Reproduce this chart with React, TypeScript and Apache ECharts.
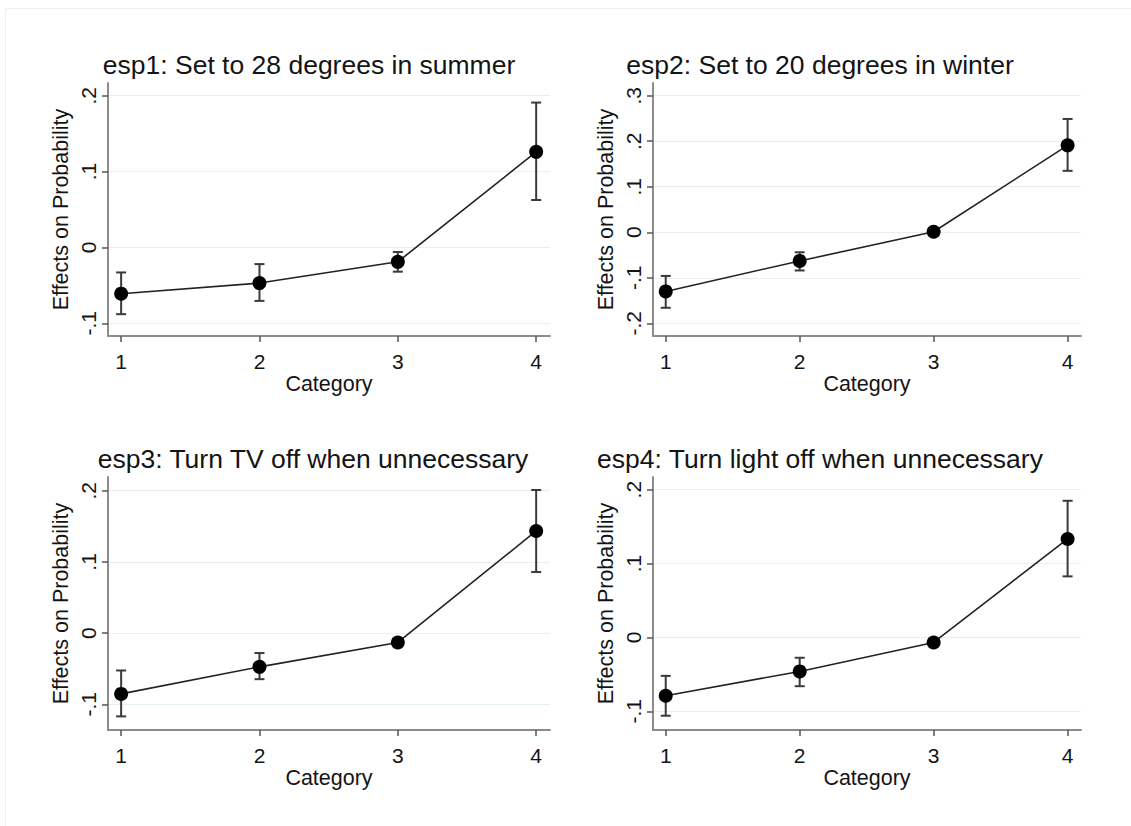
import React, { useEffect, useRef } from "react";
import * as echarts from "echarts";

const categories = [1, 2, 3, 4];

const titles = [
  "esp1: Set to 28 degrees in summer",
  "esp2: Set to 20 degrees in winter",
  "esp3: Turn TV off when unnecessary",
  "esp4: Turn light off when unnecessary",
];

const esp1Mean = [-0.061, -0.047, -0.019, 0.126];
const esp1Lo = [-0.088, -0.0705, -0.032, 0.0625];
const esp1Hi = [-0.033, -0.022, -0.006, 0.191];

const esp2Mean = [-0.13, -0.063, 0.001, 0.191];
const esp2Lo = [-0.166, -0.084, -0.004, 0.135];
const esp2Hi = [-0.096, -0.044, 0.006, 0.249];

const esp3Mean = [-0.0854, -0.0474, -0.0131, 0.1435];
const esp3Lo = [-0.117, -0.0647, -0.018, 0.0858];
const esp3Hi = [-0.0525, -0.028, -0.008, 0.201];

const esp4Mean = [-0.079, -0.046, -0.0068, 0.1333];
const esp4Lo = [-0.106, -0.066, -0.01, 0.0827];
const esp4Hi = [-0.052, -0.0275, -0.0035, 0.185];

const yTicks1 = [-0.1, 0, 0.1, 0.2];
const yTicks2 = [-0.2, -0.1, 0, 0.1, 0.2, 0.3];
const yTicks3 = [-0.1, 0, 0.1, 0.2];
const yTicks4 = [-0.1, 0, 0.1, 0.2];

const yRanges = [
  [-0.1168, 0.2168],
  [-0.228, 0.328],
  [-0.1361, 0.2193],
  [-0.1253, 0.2172],
];

const xAxisTitle = "Category";
const yAxisTitle = "Effects on Probability";

const FONT = "'Liberation Sans', Arial, Helvetica, sans-serif";
const TEXT = "#141414";

const panels = [
  { mean: esp1Mean, lo: esp1Lo, hi: esp1Hi, ticks: yTicks1 },
  { mean: esp2Mean, lo: esp2Lo, hi: esp2Hi, ticks: yTicks2 },
  { mean: esp3Mean, lo: esp3Lo, hi: esp3Hi, ticks: yTicks3 },
  { mean: esp4Mean, lo: esp4Lo, hi: esp4Hi, ticks: yTicks4 },
];

const gridBoxes = [
  { left: 108, top: 83, width: 442, height: 253 },
  { left: 653, top: 83, width: 428, height: 253 },
  { left: 108, top: 477, width: 442, height: 253 },
  { left: 653, top: 477, width: 428, height: 253 },
];

const titlePos = [
  { x: 309, y: 51 },
  { x: 820, y: 51 },
  { x: 313, y: 445 },
  { x: 820, y: 445 },
];

function fmtTick(v: number): string {
  if (v === 0) return "0";
  return String(v).replace("0.", ".");
}

export default function App() {
  const ref = useRef<HTMLDivElement>(null);

  useEffect(() => {
    document.body.style.margin = "0";
    if (!ref.current) return;
    const chart = echarts.init(ref.current, null, { renderer: "svg" });

    const grid: any[] = [];
    const xAxis: any[] = [];
    const yAxis: any[] = [];
    const series: any[] = [];
    const title: any[] = [];

    panels.forEach((p, i) => {
      grid.push({ ...gridBoxes[i], containLabel: false });
      title.push({
        text: titles[i],
        left: titlePos[i].x,
        top: titlePos[i].y,
        textAlign: "center",
        padding: 0,
        textStyle: {
          fontFamily: FONT,
          fontSize: 26.5,
          fontWeight: "normal",
          color: TEXT,
        },
      });
      xAxis.push({
        type: "value",
        gridIndex: i,
        min: 0.905,
        max: 4.1,
        name: xAxisTitle,
        nameLocation: "middle",
        nameGap: 35,
        nameTextStyle: { fontFamily: FONT, fontSize: 21.5, color: TEXT },
        axisLine: { show: true, onZero: false, lineStyle: { color: "#8c8c8c", width: 2 } },
        axisTick: {
          show: true,
          customValues: categories,
          length: 6,
          lineStyle: { color: "#555", width: 1.5 },
        },
        axisLabel: {
          customValues: categories,
          margin: 15,
          fontFamily: FONT,
          fontSize: 21,
          color: TEXT,
          formatter: (v: number) => String(v),
        },
        splitLine: { show: false },
      });
      yAxis.push({
        type: "value",
        gridIndex: i,
        min: yRanges[i][0],
        max: yRanges[i][1],
        name: yAxisTitle,
        nameLocation: "middle",
        nameGap: 36,
        nameRotate: 90,
        nameTextStyle: { fontFamily: FONT, fontSize: 21.5, color: TEXT },
        axisLine: { show: true, lineStyle: { color: "#8c8c8c", width: 2 } },
        axisTick: {
          show: true,
          customValues: p.ticks,
          length: 6,
          lineStyle: { color: "#555", width: 1.5 },
        },
        axisLabel: {
          customValues: p.ticks,
          rotate: 90,
          margin: 9,
          fontFamily: FONT,
          fontSize: 21,
          color: TEXT,
          formatter: (v: number) => fmtTick(v),
        },
        splitLine: { show: true, lineStyle: { color: "#e6eff3", width: 1 } },
      });

      const barData = categories.map((c, k) => [c, p.lo[k], p.hi[k]]);
      series.push({
        type: "custom",
        xAxisIndex: i,
        yAxisIndex: i,
        z: 2,
        encode: { x: 0, y: [1, 2] },
        data: barData,
        renderItem: (params: any, api: any) => {
          const x = api.value(0);
          const lo = api.value(1);
          const hi = api.value(2);
          const a = api.coord([x, lo]);
          const b = api.coord([x, hi]);
          const hw = 5;
          const st = { stroke: "#3a3a3a", lineWidth: 2 };
          return {
            type: "group",
            children: [
              { type: "line", shape: { x1: a[0], y1: a[1], x2: b[0], y2: b[1] }, style: st },
              { type: "line", shape: { x1: a[0] - hw, y1: a[1], x2: a[0] + hw, y2: a[1] }, style: st },
              { type: "line", shape: { x1: b[0] - hw, y1: b[1], x2: b[0] + hw, y2: b[1] }, style: st },
            ],
          };
        },
      });
      series.push({
        type: "line",
        xAxisIndex: i,
        yAxisIndex: i,
        z: 3,
        data: categories.map((c, k) => [c, p.mean[k]]),
        symbol: "circle",
        symbolSize: 14,
        itemStyle: { color: "#000" },
        lineStyle: { color: "#222", width: 1.6 },
      });
    });

    chart.setOption({
      animation: false,
      backgroundColor: "#fff",
      title,
      grid,
      xAxis,
      yAxis,
      series,
      graphic: [
        {
          type: "rect",
          shape: { x: 5.5, y: 8.5, width: 1200, height: 900 },
          style: { fill: "none", stroke: "#f0f0f0", lineWidth: 1 },
          silent: true,
          z: -1,
        },
      ],
    });

    return () => chart.dispose();
  }, []);

  return <div ref={ref} style={{ width: 1131, height: 826 }} />;
}
